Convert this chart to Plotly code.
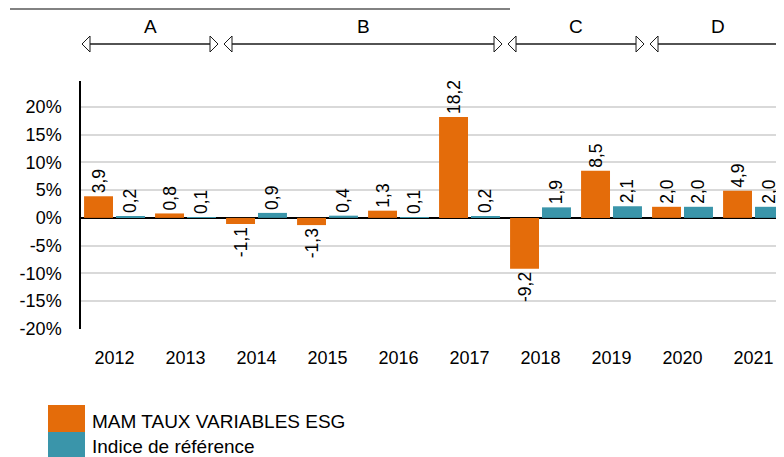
import plotly.graph_objects as go

years = ["2012", "2013", "2014", "2015", "2016", "2017", "2018", "2019", "2020", "2021"]
fund = [3.9, 0.8, -1.1, -1.3, 1.3, 18.2, -9.2, 8.5, 2.0, 4.9]
bench = [0.2, 0.1, 0.9, 0.4, 0.1, 0.2, 1.9, 2.1, 2.0, 2.0]
fund_name = "MAM TAUX VARIABLES ESG"
bench_name = "Indice de référence"
y_ticks = [20, 15, 10, 5, 0, -5, -10, -15, -20]
y_tick_text = ["20%", "15%", "10%", "5%", "0%", "-5%", "-10%", "-15%", "-20%"]
periods = ["A", "B", "C", "D"]
period_first = [0, 2, 6, 8]
period_last = [1, 5, 7, 9]

ORANGE = "#E46C0A"
TEAL = "#3A95AA"
FONT = "Liberation Sans, Arial, sans-serif"

W, H = 784, 457
ML, MR, MT, MB = 73, 0, 73, 136
PW, PH = W - ML - MR, H - MT - MB
OFF = 8  # page body margin


def px_x(px):
    return (px - OFF - ML) / PW


def px_y(py):
    return (H - MB - (py - OFF)) / PH


def fmt(v):
    return f"{v:.1f}".replace(".", ",")


fig = go.Figure()
for name, vals, col in [(fund_name, fund, ORANGE), (bench_name, bench, TEAL)]:
    fig.add_trace(go.Bar(
        x=years, y=vals, name=name, marker=dict(color=col, line=dict(width=0)),
        text=[fmt(v) for v in vals], textposition="outside", textangle=-90,
        textfont=dict(family=FONT, size=17.5, color="#000"),
        constraintext="none", cliponaxis=False, showlegend=False,
    ))

fig.update_layout(
    width=W, height=H, margin=dict(l=ML, r=MR, t=MT, b=MB),
    paper_bgcolor="white", plot_bgcolor="white",
    barmode="group", bargap=0.1, bargroupgap=0.094,
    font=dict(family=FONT, size=18, color="#000"),
    showlegend=False,
)
fig.update_xaxes(
    type="category", range=[-0.472, 9.542], showgrid=False, showline=False,
    zeroline=False, ticks="", ticklabelstandoff=16,
    tickfont=dict(family=FONT, size=18, color="#000"),
)
fig.update_yaxes(
    range=[-20.05, 24.7], tickvals=y_ticks, ticktext=y_tick_text,
    showgrid=True, gridcolor="#D9D9D9", gridwidth=1.5,
    zeroline=True, zerolinecolor="#000", zerolinewidth=1.5,
    showline=True, linecolor="#000", linewidth=1.5,
    ticks="", ticklabelstandoff=14,
    tickfont=dict(family=FONT, size=18, color="#000"),
)

# top border line
fig.add_shape(type="line", xref="paper", yref="paper",
              x0=px_x(10), x1=px_x(510), y0=px_y(9), y1=px_y(9),
              line=dict(color="#595959", width=1.5))

# period arrows
unit_px = 71.0
y_arrow = px_y(44)
y_lab = px_y(26)
inset = 3 / unit_px
head_len = 8 / unit_px
head_half = 8 / PH
for lab, a, b in zip(periods, period_first, period_last):
    x0 = a - 0.5 + inset
    x1 = b + 0.5 - inset
    fig.add_shape(type="line", xref="x", yref="paper",
                  x0=x0 + head_len, x1=x1 - head_len, y0=y_arrow, y1=y_arrow,
                  line=dict(color="#1a1a1a", width=1.5))
    for tip, base in [(x0, x0 + head_len), (x1, x1 - head_len)]:
        fig.add_shape(type="path", xref="x", yref="paper",
                      path=f"M {tip},{y_arrow} L {base},{y_arrow + head_half} L {base},{y_arrow - head_half} Z",
                      fillcolor="white", line=dict(color="#1a1a1a", width=1))
    fig.add_annotation(x=(a + b) / 2, y=y_lab, xref="x", yref="paper",
                       text=lab, showarrow=False, xanchor="center", yanchor="middle",
                       font=dict(family=FONT, size=19, color="#000"))

# manual legend
for (name, col, top, bot, ty) in [(fund_name, ORANGE, 405, 432, 421), (bench_name, TEAL, 432, 460, 446)]:
    fig.add_shape(type="rect", xref="paper", yref="paper",
                  x0=px_x(48), x1=px_x(85), y0=px_y(top), y1=px_y(bot),
                  fillcolor=col, line=dict(width=0))
    fig.add_annotation(x=px_x(90), y=px_y(ty), xref="paper", yref="paper",
                       text=name, showarrow=False, xanchor="left", yanchor="middle",
                       font=dict(family=FONT, size=19, color="#000"))

fig.write_html("out.html")
